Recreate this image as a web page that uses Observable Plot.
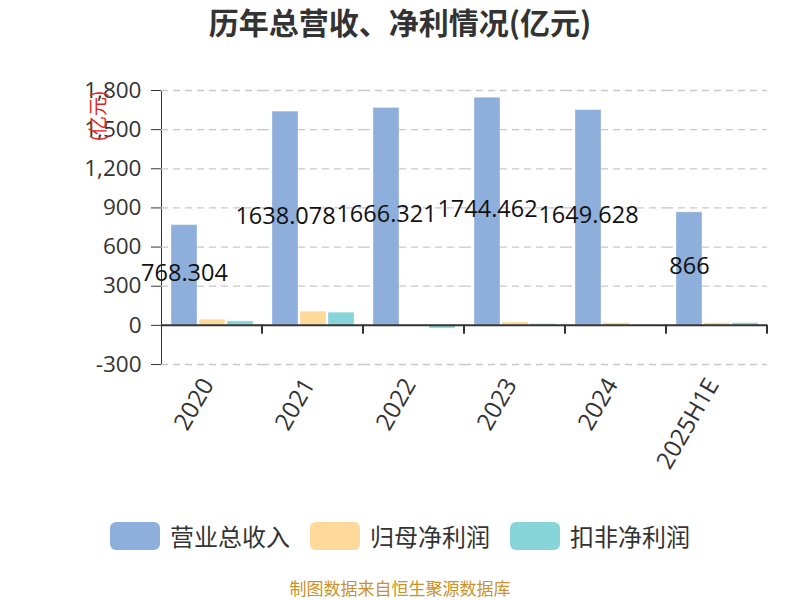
<!DOCTYPE html>
<html>
<head>
<meta charset="utf-8">
<script src="https://cdn.jsdelivr.net/npm/d3@7"></script>
<script src="https://cdn.jsdelivr.net/npm/@observablehq/plot@0.6"></script>
<style>
  html, body { margin: 0; padding: 0; background: #fff; }
  body { width: 800px; height: 600px; position: relative; overflow: hidden;
         font-family: "Open Sans", "Noto Sans CJK SC", sans-serif; }
  #title { position: absolute; left: 0; top: 0; width: 800px; height: 50px; line-height: 42px;
           text-align: center; font-size: 30px; font-weight: bold; color: #333;
           font-family: "Noto Sans CJK SC", sans-serif; }
  #chart { position: absolute; left: 0; top: 50px; }
  #yname { position: absolute; left: 97px; top: 116px; transform: translate(-50%, -50%) rotate(-90deg);
           color: #e8231c; font-size: 19px; line-height: 22px; white-space: nowrap; font-family: "Noto Sans CJK SC", sans-serif; }
  #legend { position: absolute; left: 0; top: 518px; width: 800px; display: flex; justify-content: center;
            align-items: center; font-family: "Noto Sans CJK SC", sans-serif; font-size: 24px; color: #333; }
  .item { display: flex; align-items: center; margin: 0 10px; }
  .sw { width: 50px; height: 28px; border-radius: 6px; margin-right: 10px; }
  #caption { position: absolute; left: 0; top: 578px; width: 800px; text-align: center; line-height: 20px;
             font-size: 17px; color: #c9922c; font-family: "Noto Sans CJK SC", sans-serif; }
</style>
</head>
<body>
<div id="title"></div>
<div id="chart"></div>
<div id="yname">(亿元)</div>
<div id="legend"></div>
<div id="caption"></div>
<script>
const titleText = "历年总营收、净利情况(亿元)";
const captionText = "制图数据来自恒生聚源数据库";
const years = ["2020", "2021", "2022", "2023", "2024", "2025H1E"];
const seriesNames = ["营业总收入", "归母净利润", "扣非净利润"];
const revenue = [768.304, 1638.078, 1666.321, 1744.462, 1649.628, 866];
const revenueLabels = ["768.304", "1638.078", "1666.321", "1744.462", "1649.628", "866"];
const netProfit = [43.5, 105, 1, 23, 18, 18];
const deductedProfit = [31, 97, -25, 10, 2, 17];
const colors = ["#8eaedb", "#fed999", "#88d5d9"];
const yTicks = [-300, 0, 300, 600, 900, 1200, 1500, 1800];

document.getElementById("title").textContent = titleText;
document.getElementById("caption").textContent = captionText;

const seriesValues = [revenue, netProfit, deductedProfit];
const rows = [];
years.forEach((yr, i) => {
  seriesNames.forEach((s, j) => rows.push({year: yr, series: s, value: seriesValues[j][i]}));
});
const labelRows = years.map((yr, i) => ({year: yr, series: seriesNames[0], value: revenue[i], label: revenueLabels[i]}));

const fmt = d3.format(",");
const tickFmt = d => fmt(d).replace("\u2212", "-");

const boundaryTicks = (index, scales) => {
  const g = document.createElementNS("http://www.w3.org/2000/svg", "g");
  const xr = scales.x.range();
  const y0 = scales.y(0);
  const l = document.createElementNS("http://www.w3.org/2000/svg", "line");
  const xe = Math.max(xr[0], xr[1]);
  l.setAttribute("x1", xe); l.setAttribute("x2", xe);
  l.setAttribute("y1", y0); l.setAttribute("y2", y0 + 9);
  l.setAttribute("stroke", "#333"); l.setAttribute("stroke-width", 2);
  g.appendChild(l);
  return g;
};

const plot = Plot.plot({
  width: 800,
  height: 440,
  marginTop: 40,
  marginBottom: 126,
  marginLeft: 159,
  marginRight: 32,
  style: {fontFamily: "'Open Sans', 'Noto Sans CJK SC', sans-serif", fontSize: "22.5px", color: "#333", background: "transparent"},
  fx: {domain: years, padding: 0, label: null},
  x: {domain: seriesNames, axis: null, paddingInner: 0.088, paddingOuter: 0.32},
  y: {domain: [-300, 1800], ticks: yTicks, tickFormat: tickFmt, tickSize: 10, tickPadding: 10, line: true, label: null},
  color: {domain: seriesNames, range: colors},
  marks: [
    Plot.gridY(yTicks.filter(t => t !== 0), {stroke: "#c8c8c8", strokeOpacity: 1, strokeWidth: 1.3, strokeDasharray: "7,5"}),
    Plot.barY(rows, {fx: "year", x: "series", y: "value", fill: "series", stroke: "#fff", strokeOpacity: 0.35, strokeWidth: 1}),
    Plot.ruleY([0], {stroke: "#333", strokeWidth: 2}),
    boundaryTicks,
    Plot.text(labelRows, {fx: "year", x: "series", y: d => d.value / 2, text: "label", fontSize: 23.5, fill: "#111", dy: -2}),
    Plot.axisFx({anchor: "bottom", tickRotate: -60, tickSize: 0, tickPadding: 16, dx: -4, fontSize: 24, label: null, fill: "#333"})
  ]
});
document.getElementById("chart").appendChild(plot);

const legend = document.getElementById("legend");
seriesNames.forEach((s, i) => {
  const it = document.createElement("div");
  it.className = "item";
  const sw = document.createElement("div");
  sw.className = "sw";
  sw.style.background = colors[i];
  const tx = document.createElement("span");
  tx.textContent = s;
  it.appendChild(sw); it.appendChild(tx);
  legend.appendChild(it);
});
</script>
</body>
</html>
